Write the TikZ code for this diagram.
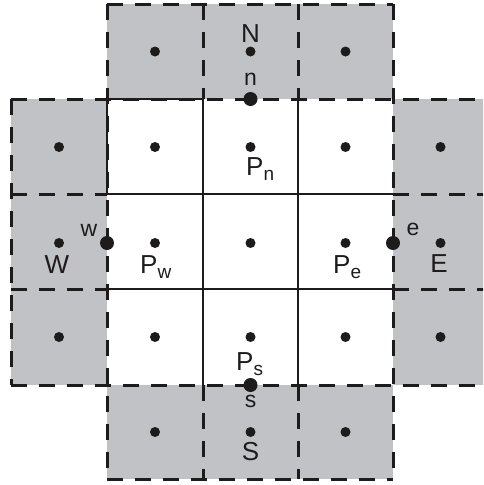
\documentclass[tikz,border=0pt]{standalone}
\usepackage{fontspec}
\setmainfont{Liberation Sans}
\definecolor{cellgray}{RGB}{193,194,198}
\definecolor{ink}{RGB}{30,27,28}
\newcommand{\Psub}[1]{P\raisebox{-5pt}{\fontsize{19}{22}\selectfont #1}}
\begin{document}
\begin{tikzpicture}[x=1pt,y=-1pt,
 dashedline/.style={draw=ink,line width=3pt,dash pattern=on 16pt off 12pt},
 solidline/.style={draw=ink,line width=2.8pt},
 smalldot/.style={circle,fill=ink,inner sep=0pt,minimum size=10pt},
 bigdot/.style={circle,fill=ink,inner sep=0pt,minimum size=14pt},
 bigtxt/.style={font=\fontsize{26}{30}\selectfont,text=ink,inner sep=0pt,anchor=base},
 smalltxt/.style={font=\fontsize{23}{26}\selectfont,text=ink,inner sep=0pt,anchor=base},
 ptxt/.style={font=\fontsize{26}{30}\selectfont,text=ink,inner sep=0pt,anchor=base west},
]
\useasboundingbox (0,0) rectangle (483,485);
\clip (0,0) rectangle (483,485);
% gray cells
\fill[cellgray] (107,4) rectangle (393,99);
\fill[cellgray] (107,385) rectangle (393,479);
\fill[cellgray] (11,99) rectangle (107,385);
\fill[cellgray] (393,99) rectangle (488,385);
% dashed borders
\draw[dashedline] (107,4) -- (393,4);
\draw[dashedline] (11,99) -- (488,99);
\draw[dashedline] (11,194) -- (107,194);
\draw[dashedline] (393,194) -- (488,194);
\draw[dashedline] (11,289) -- (107,289);
\draw[dashedline] (393,289) -- (488,289);
\draw[dashedline] (11,385) -- (488,385);
\draw[dashedline] (107,479) -- (393,479);
\draw[dashedline] (11,99) -- (11,385);
\draw[dashedline] (107,4) -- (107,479);
\draw[dashedline] (203,4) -- (203,99);
\draw[dashedline] (298,4) -- (298,99);
\draw[dashedline] (203,385) -- (203,479);
\draw[dashedline] (298,385) -- (298,479);
\draw[dashedline] (393,4) -- (393,479);
% solid inner grid
\draw[solidline] (203,99) -- (203,385);
\draw[solidline] (298,99) -- (298,385);
\draw[solidline] (107,194) -- (393,194);
\draw[solidline] (107,289) -- (393,289);
\draw[solidline] (107,99) -- (107,194);
\draw[solidline] (107,99) -- (203,99);
% small dots
\node[smalldot] (d01) at (155,51.5) {};
\node[smalldot] (N) at (250.5,51.5) {};
\node[smalldot] (d03) at (345.5,51.5) {};
\node[smalldot] (d10) at (59,147) {};
\node[smalldot] (d11) at (155,147) {};
\node[smalldot] (Pn) at (250.5,147) {};
\node[smalldot] (d13) at (345.5,147) {};
\node[smalldot] (d14) at (440.5,147) {};
\node[smalldot] (W) at (59,243) {};
\node[smalldot] (Pw) at (155,243) {};
\node[smalldot] (P) at (250.5,243) {};
\node[smalldot] (Pe) at (345.5,243) {};
\node[smalldot] (E) at (440.5,243) {};
\node[smalldot] (d30) at (59,337) {};
\node[smalldot] (d31) at (155,337) {};
\node[smalldot] (Ps) at (250.5,337) {};
\node[smalldot] (d33) at (345.5,337) {};
\node[smalldot] (d34) at (440.5,337) {};
\node[smalldot] (d41) at (155,432) {};
\node[smalldot] (S) at (250.5,432) {};
\node[smalldot] (d43) at (345.5,432) {};
% big dots on faces
\node[bigdot] (fn) at (250.5,99) {};
\node[bigdot] (fs) at (250.5,385) {};
\node[bigdot] (fw) at (107,243) {};
\node[bigdot] (fe) at (393,243) {};
% labels
\node[bigtxt] (lN) at (250.5,42) {N};
\node[smalltxt] (ln) at (250.5,85) {n};
\node[ptxt] (lPn) at (246,175) {\Psub{n}};
\node[bigtxt] (lW) at (57,273) {W};
\node[smalltxt] (lw) at (89,236) {w};
\node[ptxt] (lPw) at (140,273) {\Psub{w}};
\node[ptxt] (lPe) at (333,273) {\Psub{e}};
\node[smalltxt] (le) at (413,235) {e};
\node[bigtxt] (lE) at (439,272) {E};
\node[ptxt] (lPs) at (236,370) {\Psub{s}};
\node[smalltxt] (ls) at (250.5,407) {s};
\node[bigtxt] (lS) at (250.5,460) {S};
\end{tikzpicture}
\end{document}
